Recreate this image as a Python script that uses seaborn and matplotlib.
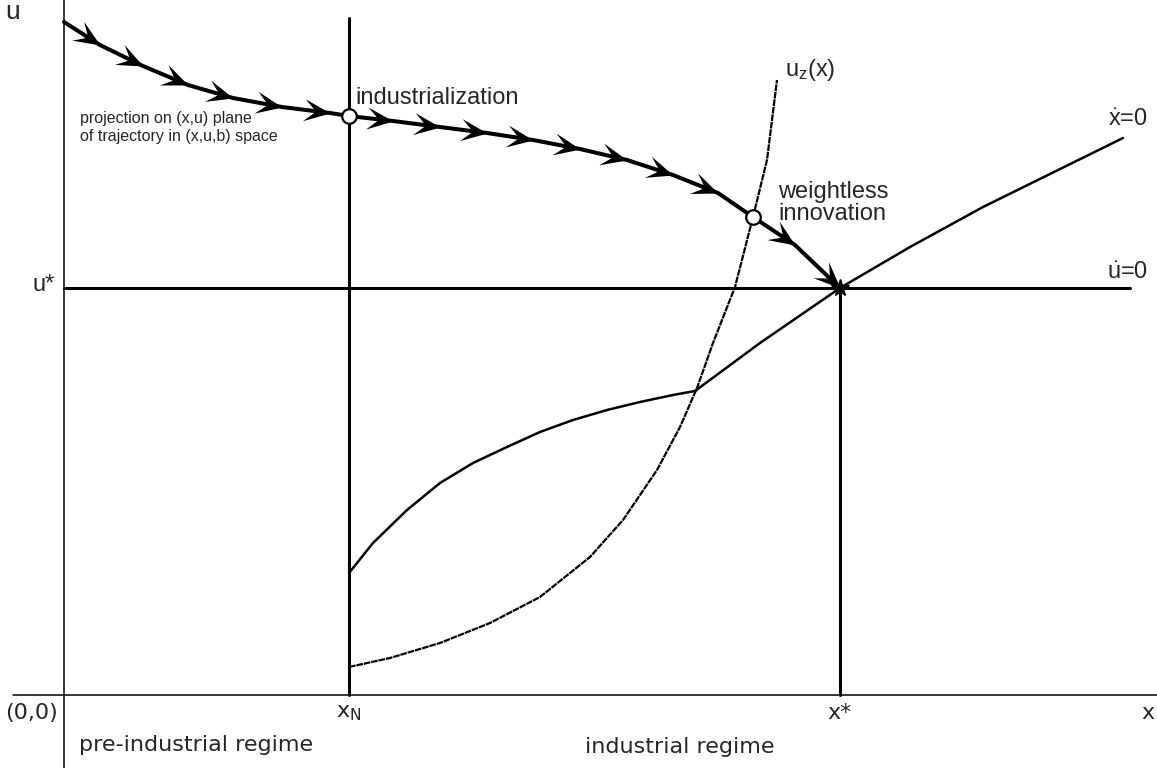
import numpy as np
import matplotlib
matplotlib.use("Agg")
import matplotlib.pyplot as plt
import seaborn as sns
from matplotlib.path import Path
from matplotlib.markers import MarkerStyle
from matplotlib.transforms import Affine2D

# ---- values (model units) ----
x_N = 2.85
x_star = 7.76
u_star = 4.07

# projected trajectory (arrow tips + the two event points)
traj_x = [0.0, 0.36, 0.79, 1.24, 1.69, 2.18, 2.66, 2.85, 3.29, 3.76, 4.23,
          4.69, 5.16, 5.63, 6.09, 6.54, 6.89, 7.31, 7.76]
traj_u = [6.73, 6.50, 6.29, 6.10, 5.97, 5.88, 5.82, 5.79, 5.74, 5.68, 5.62,
          5.55, 5.46, 5.35, 5.20, 5.02, 4.78, 4.50, 4.07]
event_idx = [7, 16]          # industrialization, weightless innovation

# u_z(x) locus (dotted)
uz_x = [2.85, 3.26, 3.76, 4.26, 4.76, 5.26, 5.59, 5.93, 6.16, 6.33, 6.49,
        6.71, 6.89, 7.03, 7.13]
uz_u = [0.28, 0.37, 0.52, 0.72, 0.98, 1.38, 1.75, 2.25, 2.68, 3.07, 3.52,
        4.08, 4.78, 5.35, 6.15]

# xdot = 0 locus
xd_x = [2.85, 3.09, 3.43, 3.76, 4.09, 4.43, 4.76, 5.09, 5.43, 5.76, 6.09,
        6.31, 6.96, 7.76, 8.46, 9.19, 9.90, 10.59]
xd_u = [1.22, 1.52, 1.85, 2.12, 2.32, 2.48, 2.63, 2.75, 2.85, 2.93, 3.00,
        3.04, 3.52, 4.07, 4.48, 4.88, 5.23, 5.57]

# ---- figure ----
sns.set_style("white")
plt.rcParams["font.family"] = ["Liberation Sans", "DejaVu Sans"]
plt.rcParams["mathtext.fontset"] = "custom"
plt.rcParams["mathtext.rm"] = "Liberation Sans"
plt.rcParams["mathtext.it"] = "Liberation Sans"

fig = plt.figure(figsize=(11.57, 7.68), dpi=100)
ax = fig.add_axes([0, 0, 1, 1])
ax.set_xlim(-0.64, 10.93)
ax.set_ylim(-0.73, 6.95)
ax.set_axis_off()

# axes of the diagram
ax.plot([-0.51, 10.93], [0, 0], color="black", lw=1.1)
ax.plot([0, 0], [-0.73, 6.95], color="black", lw=1.1)

# regime boundaries and steady state lines
ax.plot([x_N, x_N], [0, 6.77], color="black", lw=2.2)
ax.plot([x_star, x_star], [0, u_star], color="black", lw=2.2)
ax.plot([0, 10.66], [u_star, u_star], color="black", lw=2.2)

# loci
sns.lineplot(x=xd_x, y=xd_u, sort=False, estimator=None, color="black",
             lw=1.8, ax=ax)
sns.lineplot(x=uz_x, y=uz_u, sort=False, estimator=None, color="black",
             lw=1.6, linestyle=(0, (3, 0.4)), ax=ax)

# trajectory
sns.lineplot(x=traj_x, y=traj_u, sort=False, estimator=None, color="black",
             lw=2.9, ax=ax)

# arrow heads (concave chevrons)
head = Path([(0, 0), (-1, 0.42), (-0.55, 0), (-1, -0.42), (0, 0)],
            [Path.MOVETO, Path.LINETO, Path.LINETO, Path.LINETO, Path.CLOSEPOLY])
for i in range(1, len(traj_x)):
    if i in event_idx:
        continue
    dx = traj_x[i] - traj_x[i - 1]
    du = traj_u[i] - traj_u[i - 1]
    ang = np.degrees(np.arctan2(du, dx))
    m = MarkerStyle(head, transform=Affine2D().rotate_deg(ang))
    ax.plot(traj_x[i], traj_u[i], marker=m, ms=38, color="black",
            markeredgewidth=0, zorder=5)

# steady state point
ax.plot(x_star, u_star, marker="*", ms=13, color="black", zorder=6)

# event points
sns.scatterplot(x=[traj_x[i] for i in event_idx],
                y=[traj_u[i] for i in event_idx],
                s=110, color="white", edgecolor="black", linewidth=1.6,
                zorder=7, ax=ax)

# ---- labels ----
ax.text(-0.51, 6.83, "u", fontsize=19, ha="center", va="center")
ax.text(-0.09, 4.10, "u*", fontsize=17, ha="right", va="center")
ax.text(2.91, 5.97, "industrialization", fontsize=17, va="center")
ax.text(0.16, 5.68, "projection on (x,u) plane\nof trajectory in (x,u,b) space",
        fontsize=11.5, va="center", linespacing=1.25)
ax.text(7.14, 4.92, "weightless\ninnovation", fontsize=17, va="center",
        linespacing=0.95)
ax.text(7.21, 6.25, r"u$_\mathregular{z}$(x)", fontsize=17, va="center")
ax.text(10.64, 5.75, r"$\dot{\mathregular{x}}$=0", fontsize=17,
        ha="center", va="center")
ax.text(10.64, 4.22, r"$\dot{\mathregular{u}}$=0", fontsize=17,
        ha="center", va="center")

bottom = dict(family=["DejaVu Sans"], fontsize=16, va="center")
ax.text(-0.06, -0.18, "(0,0)", ha="right", **bottom)
ax.text(x_N, -0.18, r"x$_\mathregular{N}$", ha="center", **bottom)
ax.text(x_star, -0.18, "x*", ha="center", **bottom)
ax.text(10.84, -0.18, "x", ha="center", **bottom)
ax.text(0.15, -0.50, "pre-industrial regime", ha="left", **bottom)
ax.text(6.16, -0.52, "industrial regime", ha="center", **bottom)

fig.savefig("out.png", dpi=100, facecolor="white")
